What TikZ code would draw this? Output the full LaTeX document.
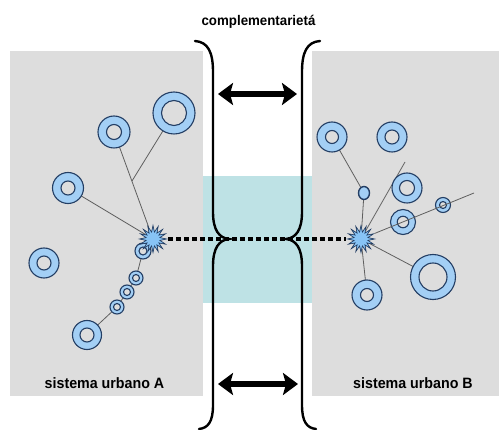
\documentclass[tikz,border=0pt]{standalone}
\usepackage{fontspec}
\setmainfont{Liberation Sans}
\newfontfamily\labelfont[FakeStretch=0.95]{Liberation Sans}
\usetikzlibrary{shapes.geometric,arrows.meta}
\pgfdeclarelayer{back}
\pgfdeclarelayer{wires}
\pgfsetlayers{back,wires,main}

\definecolor{panelgray}{RGB}{221,221,221}
\definecolor{bandteal}{RGB}{190,226,229}
\definecolor{ringblue}{RGB}{163,207,245}
\definecolor{ringedge}{RGB}{35,62,100}
\definecolor{wiregray}{RGB}{95,95,95}
\definecolor{starblue}{RGB}{135,195,245}

\tikzset{
  ringout/.style={circle, draw=ringedge, fill=ringblue, line width=1.1pt, inner sep=0pt, outer sep=0pt},
  ringin/.style={circle, draw=ringedge, fill=panelgray, line width=1.1pt, inner sep=0pt},
  hub/.style={star, star points=16, star point ratio=1.9, draw=ringedge, fill=starblue,
              line width=0.7pt, minimum size=27pt, inner sep=0pt},
  wire/.style={draw=wiregray, line width=0.8pt},
  brace/.style={line width=2.4pt, line cap=round},
  bigarrow/.style={line width=6.5pt,
    {Stealth[length=15pt,width=22pt,inset=3pt]}-{Stealth[length=15pt,width=22pt,inset=3pt]}},
  link/.style={line width=4pt, dash pattern=on 4.5pt off 3.5pt},
  caption/.style={font=\labelfont\bfseries\fontsize{15}{15}\selectfont, inner sep=0pt, anchor=base},
  heading/.style={font=\labelfont\bfseries\fontsize{14}{14}\selectfont, inner sep=0pt, anchor=base},
}

% ring settlement: name, x, y, outer diameter, inner diameter
\newcommand\ringat[5]{%
  \node[ringout, minimum size=#4pt] (#1) at (#2,#3) {};
  \node[ringin, minimum size=#5pt] (#1-in) at (#1) {};}

\begin{document}
\begin{tikzpicture}[x=1pt, y=-1pt]
\useasboundingbox (0,0) rectangle (501,430);

% panels and the shared band
\begin{pgfonlayer}{back}
  \fill[white] (0,0) rectangle (501,430);
  \fill[panelgray] (10,51) rectangle (203,396);
  \fill[panelgray] (312,51) rectangle (499,396);
  \fill[bandteal] (203,176) rectangle (312,303);
\end{pgfonlayer}

% system A
\ringat{A1}{174}{113}{42}{25}
\ringat{A2}{114}{132}{32}{15}
\ringat{A3}{68}{188}{31}{14}
\ringat{A4}{44}{263}{30}{14}
\ringat{A5}{87}{335}{29}{14}
\ringat{s1}{143}{251}{16}{8}
\ringat{s2}{136}{278}{14}{7}
\ringat{s3}{127}{292}{14}{7}
\ringat{s4}{117}{307}{14}{7}
\node[hub] (sA) at (153,239) {};
\coordinate (jA) at (132,181);

% system B
\ringat{B1}{332}{137}{30}{13}
\ringat{B2}{392}{137}{30}{14}
\ringat{B4}{407}{188}{30}{15}
\ringat{B5}{403}{222}{25}{11.5}
\ringat{B6}{443}{205}{15}{7}
\ringat{B7}{433}{277}{45}{28}
\ringat{B8}{367}{295}{30}{13}
\node[ellipse, draw=ringedge, fill=ringblue, line width=1.4pt, minimum width=11pt,
      minimum height=13pt, inner sep=0pt] (B3) at (364,193) {};
\node[hub] (sB) at (361,239) {};
\coordinate (fB1) at (405,162);
\coordinate (fB2) at (474,193);

% connections inside each system
\begin{pgfonlayer}{wires}
  \draw[wire] (sA) -- (A2);
  \draw[wire] (A1) -- (jA);
  \draw[wire] (sA) -- (A3);
  \draw[wire] (sA) -- (s1) -- (s2) -- (s3) -- (s4) -- (A5);
  \draw[wire] (sB) -- (B3) -- (B1);
  \draw[wire] (sB) -- (fB1);
  \draw[wire] (sB) -- (B7);
  \draw[wire] (sB) -- (B8);
\end{pgfonlayer}
\draw[wire] (sB) -- (fB2);

% the two braces
\draw[brace] (195,41) .. controls (208,42) and (213,52) .. (213,72) -- (213,212)
  .. controls (213,230) and (219,238) .. (229,239)
  .. controls (219,240) and (213,248) .. (213,266) -- (213,405)
  .. controls (213,422) and (208,428) .. (199,429);
\draw[brace] (320,41) .. controls (307,42) and (302,52) .. (302,72) -- (302,212)
  .. controls (302,230) and (296,238) .. (286,239)
  .. controls (296,240) and (302,248) .. (302,266) -- (302,405)
  .. controls (302,422) and (307,428) .. (316,429);

% link between the hubs
\draw[link] (sA) -- (sB);

% exchange arrows
\coordinate (tL) at (218,94);
\coordinate (tR) at (297,94);
\coordinate (bL) at (218,384);
\coordinate (bR) at (298,384);
\draw[bigarrow] (tL) -- (tR);
\draw[bigarrow] (bL) -- (bR);

% texts
\node[heading] (title) at (258.5,26) {complementarietá};
\node[caption] (capA) at (104.5,389) {sistema urbano A};
\node[caption] (capB) at (413,389) {sistema urbano B};
\end{tikzpicture}
\end{document}
